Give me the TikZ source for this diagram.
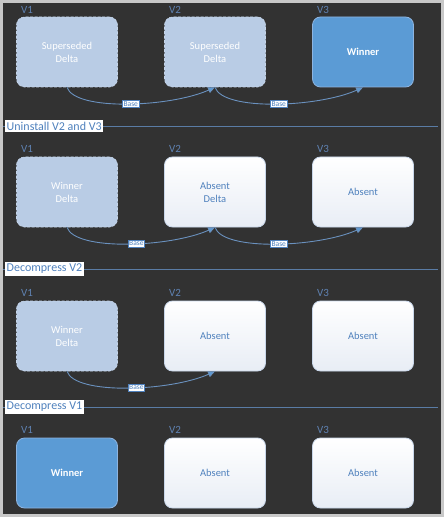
\documentclass[tikz,border=0pt]{standalone}
\usepackage{fontspec}
\setmainfont{Carlito}
\usetikzlibrary{arrows.meta,calc}
\definecolor{bgdark}{HTML}{323232}
\definecolor{frame}{HTML}{C8C8C8}
\definecolor{lightfill}{HTML}{B9CCE5}
\definecolor{lightedge}{HTML}{C6D6EB}
\definecolor{winfill}{HTML}{5B9BD5}
\definecolor{winedge}{HTML}{8DB4E0}
\definecolor{absbot}{HTML}{E8EDF5}
\definecolor{absedge}{HTML}{C9D7EA}
\definecolor{abstext}{HTML}{4F81BD}
\definecolor{vtext}{HTML}{5F82B2}
\definecolor{divline}{HTML}{5A7CA5}
\definecolor{arrowcol}{HTML}{6A91BE}
\definecolor{headcol}{HTML}{5B9BD5}
\tikzset{
  boxbase/.style={rounded corners=8pt,minimum width=101pt,minimum height=70pt,align=center,font=\fontsize{10.5}{13}\selectfont,line width=0.8pt},
  deltabox/.style={boxbase,fill=lightfill,draw=lightedge,dash pattern=on 3pt off 1.5pt,line width=0.6pt,text=white},
  winbox/.style={boxbase,fill=winfill,draw=winedge,text=white,font=\fontsize{10.5}{13}\selectfont\bfseries},
  absbox/.style={boxbase,top color=white,bottom color=absbot,draw=absedge,text=abstext},
  vlabel/.style={anchor=west,text=vtext,font=\fontsize{11}{13}\selectfont,inner sep=0pt},
  divlabel/.style={anchor=west,fill=white,text=abstext,font=\fontsize{12}{14}\selectfont,inner xsep=1.5pt,inner ysep=2pt},
  divrule/.style={draw=divline,line width=0.9pt},
  baselink/.style={draw=arrowcol,line width=0.9pt,-{Triangle[length=7pt,width=6pt,fill=headcol]}},
  basetag/.style={fill=white,draw=abstext,line width=0.4pt,text=abstext,font=\fontsize{7.5}{8}\selectfont,inner xsep=1pt,inner ysep=1pt}
}
\begin{document}
\begin{tikzpicture}[x=1pt,y=-1pt]
\useasboundingbox (0,0) rectangle (447,521);
\fill[white] (0,0) rectangle (447,521);
\fill[frame] (0,0) rectangle (444,517);
\fill[bgdark] (3,3) rectangle (441,514);

% Row 1
\node[vlabel] (v11) at (21,10) {V1};
\node[vlabel] (v12) at (169,10) {V2};
\node[vlabel] (v13) at (317,10) {V3};
\node[deltabox] (b11) at (67,52) {Superseded\\Delta};
\node[deltabox] (b12) at (215,52) {Superseded\\Delta};
\node[winbox] (b13) at (363,52) {Winner};
\draw[baselink] (b11.south) .. controls ($(b11.south)+(8,24)$) and ($(b12.south)+(-45,20)$) .. (b12.south)
  node[basetag,pos=0.52] (t11) {Base};
\draw[baselink] (b12.south) .. controls ($(b12.south)+(8,24)$) and ($(b13.south)+(-45,20)$) .. (b13.south)
  node[basetag,pos=0.52] (t12) {Base};

% Divider 1
\coordinate (d1a) at (3,126);
\coordinate (d1b) at (438,126);
\draw[divrule] (d1a) -- (d1b);
\node[divlabel] (dl1) at (5,126) {Uninstall V2 and V3};

% Row 2
\node[vlabel] (v21) at (21,149) {V1};
\node[vlabel] (v22) at (169,149) {V2};
\node[vlabel] (v23) at (317,149) {V3};
\node[deltabox] (b21) at (67,192) {Winner\\Delta};
\node[absbox] (b22) at (215,192) {Absent\\Delta};
\node[absbox] (b23) at (363,192) {Absent};
\draw[baselink] (b21.south) .. controls ($(b21.south)+(8,24)$) and ($(b22.south)+(-45,20)$) .. (b22.south)
  node[basetag,pos=0.55] (t21) {Base};
\draw[baselink] (b22.south) .. controls ($(b22.south)+(8,24)$) and ($(b23.south)+(-45,20)$) .. (b23.south)
  node[basetag,pos=0.52] (t22) {Base};

% Divider 2
\coordinate (d2a) at (3,269);
\coordinate (d2b) at (438,269);
\draw[divrule] (d2a) -- (d2b);
\node[divlabel] (dl2) at (5,269) {Decompress V2};

% Row 3
\node[vlabel] (v31) at (21,293) {V1};
\node[vlabel] (v32) at (169,293) {V2};
\node[vlabel] (v33) at (317,293) {V3};
\node[deltabox] (b31) at (67,336) {Winner\\Delta};
\node[absbox] (b32) at (215,336) {Absent};
\node[absbox] (b33) at (363,336) {Absent};
\draw[baselink] (b31.south) .. controls ($(b31.south)+(8,24)$) and ($(b32.south)+(-45,20)$) .. (b32.south)
  node[basetag,pos=0.55] (t31) {Base};

% Divider 3
\coordinate (d3a) at (3,407);
\coordinate (d3b) at (438,407);
\draw[divrule] (d3a) -- (d3b);
\node[divlabel] (dl3) at (5,407) {Decompress V1};

% Row 4
\node[vlabel] (v41) at (21,430) {V1};
\node[vlabel] (v42) at (169,430) {V2};
\node[vlabel] (v43) at (317,430) {V3};
\node[winbox] (b41) at (67,473) {Winner};
\node[absbox] (b42) at (215,473) {Absent};
\node[absbox] (b43) at (363,473) {Absent};
\end{tikzpicture}
\end{document}
